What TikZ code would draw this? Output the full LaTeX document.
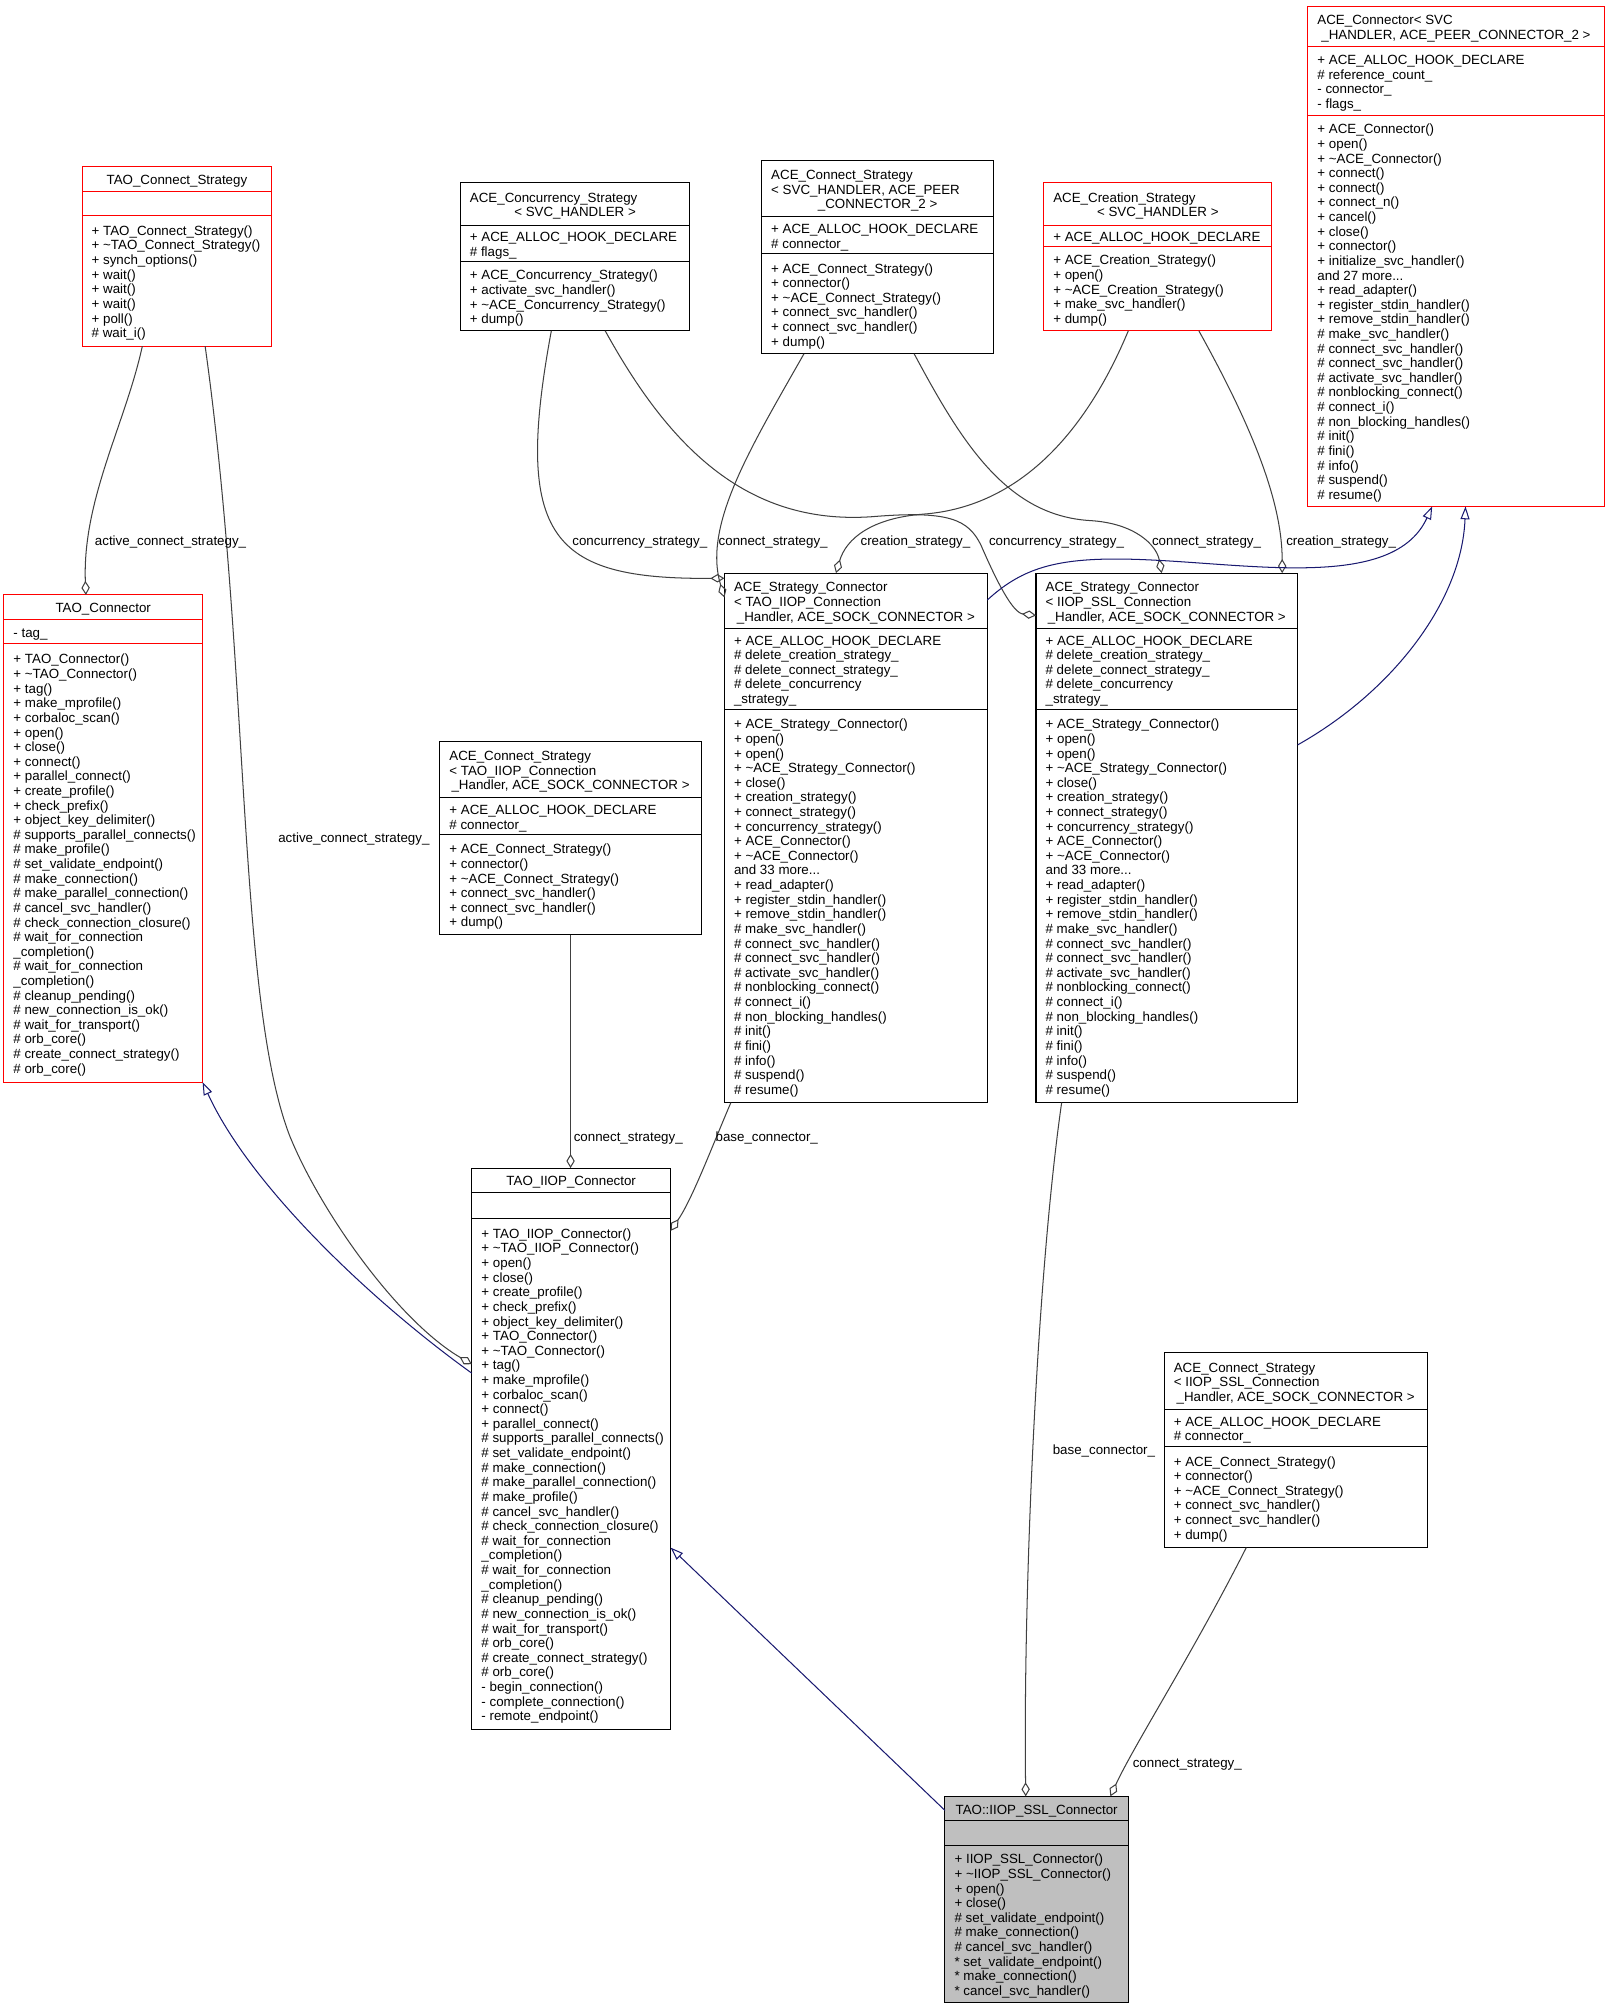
\documentclass[tikz,border=0pt]{standalone}
\usepackage{fontspec}
\setmainfont{Liberation Sans}
\usetikzlibrary{arrows.meta}
\definecolor{aggc}{HTML}{404040}
\definecolor{inhc}{HTML}{191970}
\definecolor{sslfill}{HTML}{BFBFBF}
\definecolor{boxred}{HTML}{FF0000}
\newcommand\tld{\textasciitilde}
\newcommand\R{\rule{0pt}{7.8pt}}
\tikzset{
  umlbox/.style={rectangle, inner sep=0pt, outer sep=0pt, line width=0.8pt, anchor=north west},
  txt/.style={inner sep=0pt, outer sep=0pt, align=left, yshift=-1.6pt, font=\fontsize{10.4}{11.4}\selectfont},
  lbl/.style={inner sep=0pt, outer sep=0pt, yshift=-1.6pt, font=\fontsize{10.4}{11.4}\selectfont},
  agg/.style={draw=aggc, line width=0.8pt, -{Diamond[open, length=11pt, width=6.5pt]}},
  inh/.style={draw=inhc, line width=0.8pt, -{Triangle[open, length=10pt, width=7pt]}},
}
\newcommand\umlclass[9]{%
  \node[umlbox, draw=#8, minimum width=#4pt, minimum height=#5pt, #9] (#1) at (#2,#3) {};
  \draw[#8, line width=0.8pt] ([yshift=-#6pt]#1.north west) -- ([yshift=-#6pt]#1.north east);
  \draw[#8, line width=0.8pt] ([yshift=-#7pt]#1.north west) -- ([yshift=-#7pt]#1.north east);
}
\newcommand\txtl[4]{\node[txt, anchor=west] (#1) at (#2,#3) {\R#4};}
\newcommand\txtc[4]{\node[txt, anchor=center] (#1) at (#2,#3) {\R#4};}
\begin{document}
\begin{tikzpicture}[x=1pt,y=-1pt]
\fill[white] (0,0) rectangle (1257.2,1570);
\useasboundingbox (0,0) rectangle (1257.2,1570);

% TAO_Connect_Strategy
\umlclass{tcs}{64}{130}{148}{140}{19}{38}{boxred}{}
\txtc{tcs-t}{138}{139.5}{TAO\_Connect\_Strategy}
\txtl{tcs-m}{71.5}{219}{+ TAO\_Connect\_Strategy()\\+ \tld TAO\_Connect\_Strategy()\\+ synch\_options()\\+ wait()\\+ wait()\\+ wait()\\+ poll()\\\# wait\_i()}

% ACE_Concurrency_Strategy
\umlclass{acs}{359}{142}{179}{116}{34}{62}{black}{}
\txtl{acs-t}{366.5}{153.3}{ACE\_Concurrency\_Strategy}
\txtc{acs-c}{448.5}{164.7}{< SVC\_HANDLER >}
\txtl{acs-a}{366.5}{190}{+ ACE\_ALLOC\_HOOK\_DECLARE\\\# flags\_}
\txtl{acs-m}{366.5}{231}{+ ACE\_Concurrency\_Strategy()\\+ activate\_svc\_handler()\\+ \tld ACE\_Concurrency\_Strategy()\\+ dump()}

% ACE_Connect_Strategy (top)
\umlclass{acns}{594}{125}{181}{151}{44}{73}{black}{}
\txtl{acns-t}{601.5}{141.3}{ACE\_Connect\_Strategy\\< SVC\_HANDLER, ACE\_PEER}
\txtc{acns-c}{684.5}{158.4}{\_CONNECTOR\_2 >}
\txtl{acns-a}{601.5}{183.5}{+ ACE\_ALLOC\_HOOK\_DECLARE\\\# connector\_}
\txtl{acns-m}{601.5}{237}{+ ACE\_Connect\_Strategy()\\+ connector()\\+ \tld ACE\_Connect\_Strategy()\\+ connect\_svc\_handler()\\+ connect\_svc\_handler()\\+ dump()}

% ACE_Creation_Strategy
\umlclass{acrs}{814}{142}{178}{116}{34}{50}{boxred}{}
\txtl{acrs-t}{821.5}{153.3}{ACE\_Creation\_Strategy}
\txtc{acrs-c}{903}{164.7}{< SVC\_HANDLER >}
\txtl{acrs-a}{821.5}{184}{+ ACE\_ALLOC\_HOOK\_DECLARE}
\txtl{acrs-m}{821.5}{225}{+ ACE\_Creation\_Strategy()\\+ open()\\+ \tld ACE\_Creation\_Strategy()\\+ make\_svc\_handler()\\+ dump()}

% ACE_Connector
\umlclass{acon}{1020}{5}{231}{390}{31}{85}{boxred}{}
\txtl{acon-t}{1027.5}{14.8}{ACE\_Connector< SVC}
\txtc{acon-c}{1135.5}{26.2}{\_HANDLER, ACE\_PEER\_CONNECTOR\_2 >}
\txtl{acon-a}{1027.5}{63}{+ ACE\_ALLOC\_HOOK\_DECLARE\\\# reference\_count\_\\- connector\_\\- flags\_}
\txtl{acon-m}{1027.5}{242.5}{+ ACE\_Connector()\\+ open()\\+ \tld ACE\_Connector()\\+ connect()\\+ connect()\\+ connect\_n()\\+ cancel()\\+ close()\\+ connector()\\+ initialize\_svc\_handler()\\and 27 more...\\+ read\_adapter()\\+ register\_stdin\_handler()\\+ remove\_stdin\_handler()\\\# make\_svc\_handler()\\\# connect\_svc\_handler()\\\# connect\_svc\_handler()\\\# activate\_svc\_handler()\\\# nonblocking\_connect()\\\# connect\_i()\\\# non\_blocking\_handles()\\\# init()\\\# fini()\\\# info()\\\# suspend()\\\# resume()}

% TAO_Connector
\umlclass{tcon}{3}{464}{155}{380}{19}{38}{boxred}{}
\txtc{tcon-t}{80.5}{473.5}{TAO\_Connector}
\txtl{tcon-a}{10.5}{492.5}{- tag\_}
\txtl{tcon-m}{10.5}{673}{+ TAO\_Connector()\\+ \tld TAO\_Connector()\\+ tag()\\+ make\_mprofile()\\+ corbaloc\_scan()\\+ open()\\+ close()\\+ connect()\\+ parallel\_connect()\\+ create\_profile()\\+ check\_prefix()\\+ object\_key\_delimiter()\\\# supports\_parallel\_connects()\\\# make\_profile()\\\# set\_validate\_endpoint()\\\# make\_connection()\\\# make\_parallel\_connection()\\\# cancel\_svc\_handler()\\\# check\_connection\_closure()\\\# wait\_for\_connection\\\_completion()\\\# wait\_for\_connection\\\_completion()\\\# cleanup\_pending()\\\# new\_connection\_is\_ok()\\\# wait\_for\_transport()\\\# orb\_core()\\\# create\_connect\_strategy()\\\# orb\_core()}

% ACE_Connect_Strategy (middle)
\umlclass{acsm}{343}{578}{204}{151}{44}{73}{black}{}
\txtl{acsm-t}{350.5}{594.3}{ACE\_Connect\_Strategy\\< TAO\_IIOP\_Connection}
\txtc{acsm-c}{445}{611.4}{\_Handler, ACE\_SOCK\_CONNECTOR >}
\txtl{acsm-a}{350.5}{636.5}{+ ACE\_ALLOC\_HOOK\_DECLARE\\\# connector\_}
\txtl{acsm-m}{350.5}{690}{+ ACE\_Connect\_Strategy()\\+ connector()\\+ \tld ACE\_Connect\_Strategy()\\+ connect\_svc\_handler()\\+ connect\_svc\_handler()\\+ dump()}

% ACE_Strategy_Connector (TAO_IIOP)
\umlclass{ascl}{565}{447}{205}{413}{43}{106}{black}{}
\txtl{ascl-t}{572.5}{462.8}{ACE\_Strategy\_Connector\\< TAO\_IIOP\_Connection}
\txtc{ascl-c}{667.5}{480.2}{\_Handler, ACE\_SOCK\_CONNECTOR >}
\txtl{ascl-a}{572.5}{521.5}{+ ACE\_ALLOC\_HOOK\_DECLARE\\\# delete\_creation\_strategy\_\\\# delete\_connect\_strategy\_\\\# delete\_concurrency\\\_strategy\_}
\txtl{ascl-m}{572.5}{706.5}{+ ACE\_Strategy\_Connector()\\+ open()\\+ open()\\+ \tld ACE\_Strategy\_Connector()\\+ close()\\+ creation\_strategy()\\+ connect\_strategy()\\+ concurrency\_strategy()\\+ ACE\_Connector()\\+ \tld ACE\_Connector()\\and 33 more...\\+ read\_adapter()\\+ register\_stdin\_handler()\\+ remove\_stdin\_handler()\\\# make\_svc\_handler()\\\# connect\_svc\_handler()\\\# connect\_svc\_handler()\\\# activate\_svc\_handler()\\\# nonblocking\_connect()\\\# connect\_i()\\\# non\_blocking\_handles()\\\# init()\\\# fini()\\\# info()\\\# suspend()\\\# resume()}

% ACE_Strategy_Connector (IIOP_SSL)
\umlclass{ascr}{808}{447}{204}{413}{43}{106}{black}{}
\txtl{ascr-t}{815.5}{462.8}{ACE\_Strategy\_Connector\\< IIOP\_SSL\_Connection}
\txtc{ascr-c}{910}{480.2}{\_Handler, ACE\_SOCK\_CONNECTOR >}
\txtl{ascr-a}{815.5}{521.5}{+ ACE\_ALLOC\_HOOK\_DECLARE\\\# delete\_creation\_strategy\_\\\# delete\_connect\_strategy\_\\\# delete\_concurrency\\\_strategy\_}
\txtl{ascr-m}{815.5}{706.5}{+ ACE\_Strategy\_Connector()\\+ open()\\+ open()\\+ \tld ACE\_Strategy\_Connector()\\+ close()\\+ creation\_strategy()\\+ connect\_strategy()\\+ concurrency\_strategy()\\+ ACE\_Connector()\\+ \tld ACE\_Connector()\\and 33 more...\\+ read\_adapter()\\+ register\_stdin\_handler()\\+ remove\_stdin\_handler()\\\# make\_svc\_handler()\\\# connect\_svc\_handler()\\\# connect\_svc\_handler()\\\# activate\_svc\_handler()\\\# nonblocking\_connect()\\\# connect\_i()\\\# non\_blocking\_handles()\\\# init()\\\# fini()\\\# info()\\\# suspend()\\\# resume()}

% TAO_IIOP_Connector
\umlclass{tiiop}{368}{911}{155}{438}{19}{39}{black}{}
\txtc{tiiop-t}{445.5}{920.5}{TAO\_IIOP\_Connector}
\txtl{tiiop-m}{375.5}{1149.5}{+ TAO\_IIOP\_Connector()\\+ \tld TAO\_IIOP\_Connector()\\+ open()\\+ close()\\+ create\_profile()\\+ check\_prefix()\\+ object\_key\_delimiter()\\+ TAO\_Connector()\\+ \tld TAO\_Connector()\\+ tag()\\+ make\_mprofile()\\+ corbaloc\_scan()\\+ connect()\\+ parallel\_connect()\\\# supports\_parallel\_connects()\\\# set\_validate\_endpoint()\\\# make\_connection()\\\# make\_parallel\_connection()\\\# make\_profile()\\\# cancel\_svc\_handler()\\\# check\_connection\_closure()\\\# wait\_for\_connection\\\_completion()\\\# wait\_for\_connection\\\_completion()\\\# cleanup\_pending()\\\# new\_connection\_is\_ok()\\\# wait\_for\_transport()\\\# orb\_core()\\\# create\_connect\_strategy()\\\# orb\_core()\\- begin\_connection()\\- complete\_connection()\\- remote\_endpoint()}

% ACE_Connect_Strategy (IIOP_SSL)
\umlclass{acsb}{908}{1055}{205}{152}{44}{73}{black}{}
\txtl{acsb-t}{915.5}{1071.3}{ACE\_Connect\_Strategy\\< IIOP\_SSL\_Connection}
\txtc{acsb-c}{1010.5}{1088.4}{\_Handler, ACE\_SOCK\_CONNECTOR >}
\txtl{acsb-a}{915.5}{1113.5}{+ ACE\_ALLOC\_HOOK\_DECLARE\\\# connector\_}
\txtl{acsb-m}{915.5}{1167.5}{+ ACE\_Connect\_Strategy()\\+ connector()\\+ \tld ACE\_Connect\_Strategy()\\+ connect\_svc\_handler()\\+ connect\_svc\_handler()\\+ dump()}

% TAO::IIOP_SSL_Connector
\umlclass{ssl}{737}{1401}{143}{161}{19}{38}{black}{fill=sslfill}
\txtc{ssl-t}{808.5}{1410.5}{TAO::IIOP\_SSL\_Connector}
\txtl{ssl-m}{744.5}{1500.5}{+ IIOP\_SSL\_Connector()\\+ \tld IIOP\_SSL\_Connector()\\+ open()\\+ close()\\\# set\_validate\_endpoint()\\\# make\_connection()\\\# cancel\_svc\_handler()\\* set\_validate\_endpoint()\\* make\_connection()\\* cancel\_svc\_handler()}

% connectors
\draw[agg] ([xshift=47pt]tcs.south west) .. controls (98,330) and (64,390) .. ([xshift=64pt]tcon.north west);
\draw[agg] ([xshift=96pt]tcs.south west) .. controls (195,520) and (185,780) .. (226,886) .. controls (250,945) and (310,1030) .. ([yshift=-153pt]tiiop.north west);
\draw[inh] ([yshift=-160pt]tiiop.north west) .. controls (290,1015) and (195,925) .. (tcon.south east);
\draw[agg] ([xshift=71pt]acs.south west) .. controls (400,420) and (430,452) .. ([yshift=-4pt]ascl.north west);
\draw[agg] ([xshift=33pt]acns.south west) .. controls (585,350) and (548,410) .. ([yshift=-19pt]ascl.north west);
\draw[agg] ([xshift=66pt]acrs.south west) .. controls (850,330) and (800,395) .. (720,401) .. controls (680,404) and (660,420) .. ([xshift=87pt]ascl.north west);
\draw[agg] ([xshift=113pt]acs.south west) .. controls (520,345) and (580,410) .. (680,403) .. controls (740,398) and (755,405) .. (765,425) .. controls (778,455) and (790,478) .. ([yshift=-33pt]ascr.north west);
\draw[agg] ([xshift=119pt]acns.south west) .. controls (750,345) and (785,402) .. (850,406) .. controls (885,408) and (902,425) .. ([xshift=98pt]ascr.north west);
\draw[agg] ([xshift=121pt]acrs.south west) .. controls (975,330) and (1000,390) .. ([xshift=192pt]ascr.north west);
\draw[inh] ([yshift=-21pt]ascl.north east) .. controls (795,445) and (820,436) .. (870,436) .. controls (960,436) and (1085,465) .. ([xshift=97pt]acon.south west);
\draw[inh] ([yshift=-134pt]ascr.north east) .. controls (1085,540) and (1140,470) .. ([xshift=123pt]acon.south west);
\draw[agg] ([xshift=102pt]acsm.south west) -- ([xshift=77pt]tiiop.north west);
\draw[agg] ([xshift=5pt]ascl.south west) .. controls (555,895) and (540,935) .. ([yshift=-49pt]tiiop.north east);
\draw[agg] ([xshift=20pt]ascr.south west) .. controls (808,1000) and (798,1250) .. ([xshift=63pt]ssl.north west);
\draw[agg] ([xshift=64pt]acsb.south west) .. controls (930,1290) and (885,1360) .. ([xshift=129pt]ssl.north west);
\draw[inh] ([yshift=-11pt]ssl.north west) -- ([yshift=-296pt]tiiop.north east);

% connector labels
\node[lbl] (lb1) at (133,421) {\R active\_connect\_strategy\_};
\node[lbl] (lb2) at (276,653) {\R active\_connect\_strategy\_};
\node[lbl] (lb3) at (499,421) {\R concurrency\_strategy\_};
\node[lbl] (lb4) at (603,421) {\R connect\_strategy\_};
\node[lbl] (lb5) at (714,421) {\R creation\_strategy\_};
\node[lbl] (lb6) at (824,421) {\R concurrency\_strategy\_};
\node[lbl] (lb7) at (941,421) {\R connect\_strategy\_};
\node[lbl] (lb8) at (1046,421) {\R creation\_strategy\_};
\node[lbl] (lb9) at (490,886) {\R connect\_strategy\_};
\node[lbl] (lb10) at (598,886) {\R base\_connector\_};
\node[lbl] (lb11) at (861,1130) {\R base\_connector\_};
\node[lbl] (lb12) at (926,1374) {\R connect\_strategy\_};
\end{tikzpicture}
\end{document}
